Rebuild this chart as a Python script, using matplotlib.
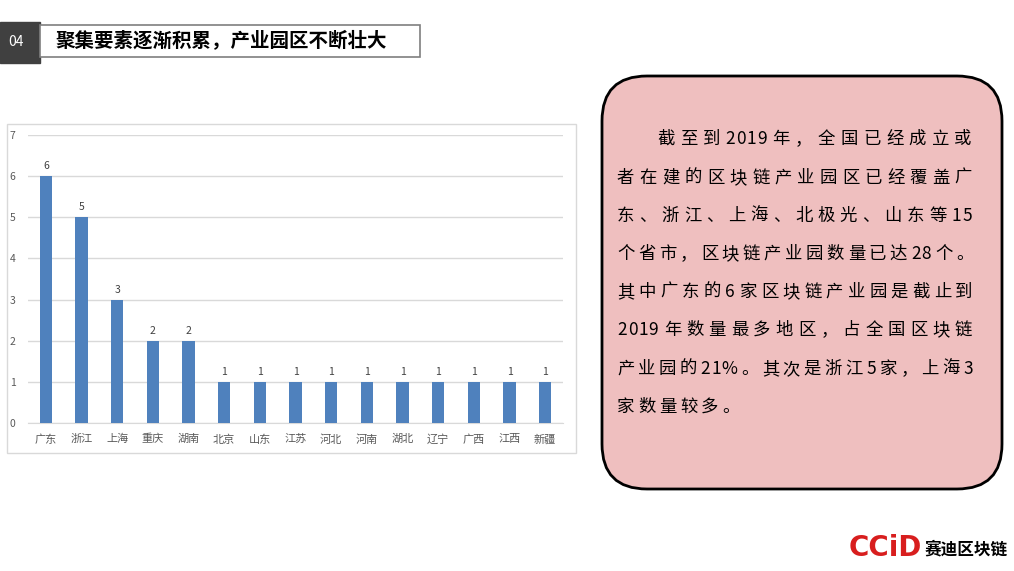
import matplotlib
matplotlib.use('Agg')
import matplotlib.pyplot as plt
from matplotlib.patches import Rectangle, FancyBboxPatch

plt.rcParams['font.family'] = ['Noto Sans CJK SC', 'DejaVu Sans']

# data
regions = ['广东', '浙江', '上海', '重庆', '湖南', '北京', '山东', '江苏',
           '河北', '河南', '湖北', '辽宁', '广西', '江西', '新疆']
parks = [6, 5, 3, 2, 2, 1, 1, 1, 1, 1, 1, 1, 1, 1, 1]

title = '聚集要素逐渐积累，产业园区不断壮大'
note_lines = [
    '截至到2019年，全国已经成立或',
    '者在建的区块链产业园区已经覆盖广',
    '东、浙江、上海、北极光、山东等15',
    '个省市，区块链产业园数量已达28个。',
    '其中广东的6家区块链产业园是截止到',
    '2019年数量最多地区，占全国区块链',
    '产业园的21%。其次是浙江5家，上海3',
    '家数量较多。',
]

W, H = 1014, 571
fig = plt.figure(figsize=(W / 100, H / 100), dpi=100)

# overlay in pixel coordinates (y down)
bg = fig.add_axes([0, 0, 1, 1], zorder=0)
bg.set_xlim(0, W)
bg.set_ylim(H, 0)
bg.axis('off')

# header
bg.add_patch(Rectangle((0, 22), 40, 41, color='#404040'))
bg.text(8, 42, '04', color='white', fontsize=10, va='center', ha='left')
bg.add_patch(Rectangle((40, 25), 380, 32, facecolor='white', edgecolor='#7f7f7f', lw=1.2))
bg.text(55, 41, title, fontsize=14, fontweight='bold', va='center', ha='left', color='black')

# chart frame
bg.add_patch(Rectangle((7, 124), 569, 329, facecolor='white', edgecolor='#d9d9d9', lw=1))

# rounded note box
bg.add_patch(FancyBboxPatch((602, 76), 400, 413,
                            boxstyle='round,pad=0,rounding_size=45',
                            facecolor='#efbfbf', edgecolor='black', lw=2))

fs = 12.5
fs_px = fs * 100 / 72


def is_ascii(c):
    return ord(c) < 128


def char_w(c):
    if c == '%':
        return 0.95
    return 0.6 if is_ascii(c) else 1.0


def draw_line(s, x0, x1, y, justify=True, adv=21.0):
    widths = [char_w(c) * fs_px for c in s]
    # no extra spacing between two ascii characters
    spaced = [not (i + 1 < len(s) and is_ascii(s[i]) and is_ascii(s[i + 1])) for i in range(len(s))]
    if justify:
        gap = ((x1 - x0) - sum(widths)) / sum(spaced)
    else:
        gap = adv - fs_px
    x = x0
    for c, w, sp in zip(s, widths, spaced):
        bg.text(x + w / 2, y, c, fontsize=fs, ha='center', va='center', color='black')
        x += w + (gap if sp else 0)


line_y = [139, 178, 216, 254, 292, 330, 369, 407]
for i, (s, y) in enumerate(zip(note_lines, line_y)):
    if i == 0:
        draw_line(s, 657, 977, y)
    elif i == len(note_lines) - 1:
        draw_line(s, 617, 977, y, justify=False)
    else:
        draw_line(s, 617, 977, y)

# logo
bg.text(849, 548, 'CCiD', color='#d81e1e', fontsize=20, fontweight='bold',
        family='DejaVu Sans', va='center', ha='left')
bg.text(1008, 549, '赛迪区块链', color='black', fontsize=12, fontweight='bold',
        va='center', ha='right')

# bar chart
ax = fig.add_axes([28 / W, 1 - 423 / H, 535 / W, 288 / H], zorder=1)
ax.patch.set_alpha(0)
x = list(range(len(regions)))
bars = ax.bar(x, parks, width=0.34, color='#4f81bd', zorder=3)
for xi, v in zip(x, parks):
    ax.text(xi, v + 0.12, str(v), ha='center', va='bottom', fontsize=7.5, color='#404040')
ax.set_xlim(-0.5, len(regions) - 0.5)
ax.set_ylim(0, 7)
ax.set_yticks(range(8))
ax.set_xticks(x)
ax.set_xticklabels(regions)
ax.tick_params(axis='both', length=0, labelsize=7.5, labelcolor='#595959')
ax.tick_params(axis='x', pad=8, labelsize=8)
ax.tick_params(axis='y', pad=9)
ax.grid(axis='y', color='#d9d9d9', lw=1, zorder=0)
for side in ['top', 'right', 'left']:
    ax.spines[side].set_visible(False)
ax.spines['bottom'].set_color('#d9d9d9')

fig.savefig('out.png', dpi=100)
